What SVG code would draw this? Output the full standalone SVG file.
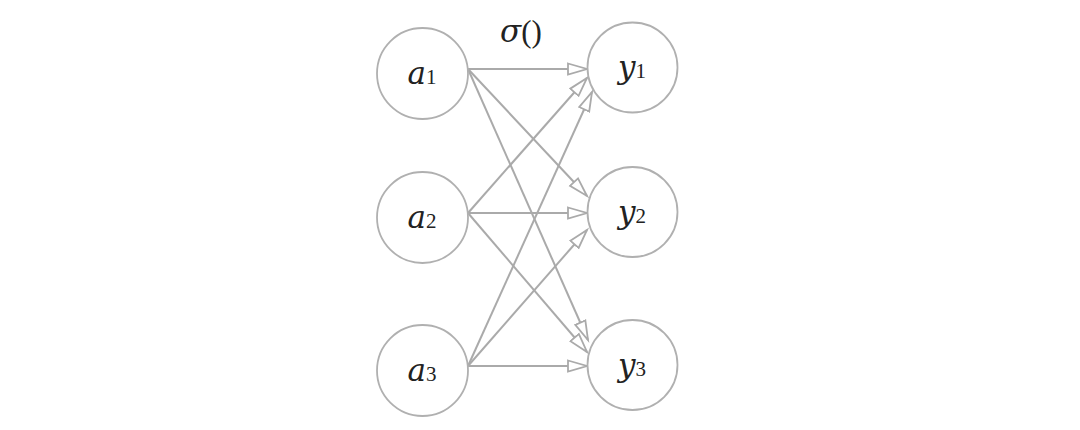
<svg xmlns="http://www.w3.org/2000/svg" width="1080" height="430" viewBox="0 0 1080 430">
<style>
.node{fill:#fff;stroke:#b0b0b0;stroke-width:1.8}
.lbl{font-family:"DejaVu Serif","Liberation Serif",serif;font-size:31px;fill:#222;text-anchor:middle}
.v{font-style:italic}
.sub{font-family:"Liberation Serif",serif;font-size:21px;font-style:normal}
.edge{stroke:#aaaaaa;stroke-width:2;fill:none;marker-end:url(#arr)}
</style>
<defs>
<marker id="arr" markerUnits="userSpaceOnUse" markerWidth="24" markerHeight="16" refX="20" refY="7" orient="auto" viewBox="0 0 24 14">
<path d="M1,1.5 L20,7 L1,12.5 Z" fill="#fff" stroke="#aaaaaa" stroke-width="1.8"/>
</marker>
</defs>
<rect width="1080" height="430" fill="#fff"/>
<g id="connectors">
<line class="edge" x1="468" y1="69" x2="587" y2="69"/>
<line class="edge" x1="468" y1="69" x2="587" y2="196"/>
<line class="edge" x1="468" y1="69" x2="588" y2="340"/>
<line class="edge" x1="468" y1="213" x2="587" y2="78"/>
<line class="edge" x1="468" y1="213" x2="587" y2="213"/>
<line class="edge" x1="468" y1="213" x2="587" y2="352"/>
<line class="edge" x1="468" y1="366" x2="592" y2="92"/>
<line class="edge" x1="468" y1="366" x2="587" y2="230"/>
<line class="edge" x1="468" y1="366" x2="587" y2="366"/>
</g>
<g id="a1"><circle class="node" cx="422.5" cy="73.5" r="45.5"/><text class="lbl" x="422" y="84"><tspan class="v">a</tspan><tspan class="sub">1</tspan></text></g>
<g id="a2"><circle class="node" cx="422.5" cy="217.5" r="45.5"/><text class="lbl" x="422" y="228"><tspan class="v">a</tspan><tspan class="sub">2</tspan></text></g>
<g id="a3"><circle class="node" cx="422.5" cy="370.5" r="45.5"/><text class="lbl" x="422" y="381"><tspan class="v">a</tspan><tspan class="sub">3</tspan></text></g>
<g id="y1"><circle class="node" cx="632.5" cy="67.5" r="45"/><text class="lbl" x="632" y="78"><tspan class="v">y</tspan><tspan class="sub">1</tspan></text></g>
<g id="y2"><circle class="node" cx="632.5" cy="212" r="45"/><text class="lbl" x="632" y="223"><tspan class="v">y</tspan><tspan class="sub">2</tspan></text></g>
<g id="y3"><circle class="node" cx="632.5" cy="365" r="45"/><text class="lbl" x="632" y="376"><tspan class="v">y</tspan><tspan class="sub">3</tspan></text></g>
<text class="lbl" x="521" y="42"><tspan class="v">σ</tspan><tspan style="font-family:'Liberation Serif',serif">()</tspan></text>
</svg>
